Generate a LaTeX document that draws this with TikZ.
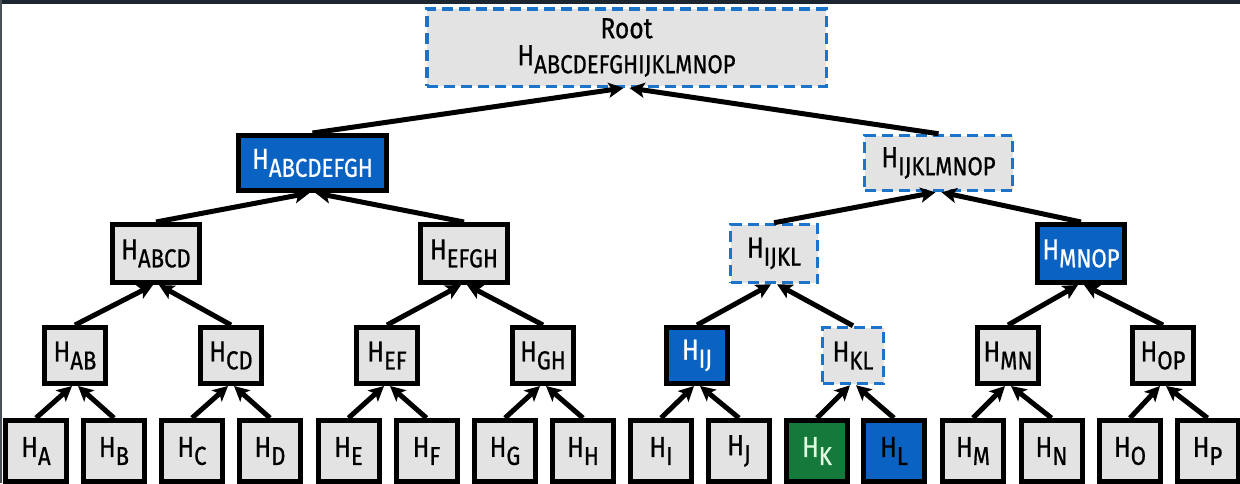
\documentclass[tikz,border=0pt]{standalone}
\usepackage{fontspec}
\setmainfont{Fira Sans}[FakeStretch=0.85,FakeBold=0.7]
\usetikzlibrary{arrows.meta}
\definecolor{boxgray}{HTML}{E3E3E3}
\definecolor{hlblue}{HTML}{0A62C2}
\definecolor{dashblue}{HTML}{1B74C9}
\definecolor{hlgreen}{HTML}{14793A}
\definecolor{topbar}{HTML}{1C2631}
\definecolor{leftbar}{HTML}{4A5058}
\newcommand\Hsb[1]{H\raisebox{-8pt}{\fontsize{26}{26}\selectfont #1}}
\begin{document}
\begin{tikzpicture}[x=1pt,y=-1pt,font=\fontsize{29}{30}\selectfont,
  hbox/.style={draw=black,line width=5pt,fill=boxgray,inner sep=0pt,text=black},
  pathbox/.style={draw=dashblue,dash pattern=on 11pt off 6pt,line width=3.5pt},
  bluebox/.style={fill=hlblue,text=white},
  bluedark/.style={fill=hlblue,text=black},
  greenbox/.style={fill=hlgreen,text=white!88!green},
  leaf/.style={hbox,minimum width=61pt,minimum height=61pt},
  lthree/.style={hbox,minimum width=61pt,minimum height=56pt},
  ltwo/.style={hbox,minimum width=87pt,minimum height=58pt},
  lone/.style={hbox,minimum width=148pt,minimum height=55pt},
  arr/.style={line width=5pt,-{Stealth[length=15pt,width=15pt,inset=3.5pt]}}]
\fill[white] (0,0) rectangle (1240,483);
\useasboundingbox (0,0) rectangle (1240,483);
\fill[topbar] (0,0) rectangle (1240,3.5);
\fill[leftbar] (0,0) rectangle (2,483);
% root
\node[hbox,pathbox,align=center,minimum width=399.5pt,minimum height=77.5pt] (root) at (626.5,47.5) {Root\\[-3pt]\Hsb{ABCDEFGHIJKLMNOP}};
% level 1
\node[lone,bluebox] (n1a) at (312.5,163) {\Hsb{ABCDEFGH}};
\node[lone,pathbox] (n1b) at (938.5,163) {\Hsb{IJKLMNOP}};
% level 2
\node[ltwo] (n2a) at (156,253.5) {\Hsb{ABCD}};
\node[ltwo] (n2b) at (464,253.5) {\Hsb{EFGH}};
\node[ltwo,pathbox] (n2c) at (774,253.5) {\Hsb{IJKL}};
\node[ltwo,bluebox] (n2d) at (1081,253.5) {\Hsb{MNOP}};
% level 3
\node[lthree] (n3a) at (75,355.5) {\Hsb{AB}};
\node[lthree] (n3b) at (231,355.5) {\Hsb{CD}};
\node[lthree] (n3c) at (387,355.5) {\Hsb{EF}};
\node[lthree] (n3d) at (543,355.5) {\Hsb{GH}};
\node[lthree,bluebox] (n3e) at (697,355.5) {\Hsb{IJ}};
\node[lthree,pathbox] (n3f) at (853,355.5) {\Hsb{KL}};
\node[lthree] (n3g) at (1008,355.5) {\Hsb{MN}};
\node[lthree] (n3h) at (1163,355.5) {\Hsb{OP}};
% leaves
\node[leaf] (la) at (36,451) {\Hsb{A}};
\node[leaf] (lb) at (114,451) {\Hsb{B}};
\node[leaf] (lc) at (192,451) {\Hsb{C}};
\node[leaf] (ld) at (270,451) {\Hsb{D}};
\node[leaf] (le) at (348.5,451) {\Hsb{E}};
\node[leaf] (lf) at (426.5,451) {\Hsb{F}};
\node[leaf] (lg) at (505,451) {\Hsb{G}};
\node[leaf] (lh) at (583,451) {\Hsb{H}};
\node[leaf] (li) at (661,451) {\Hsb{I}};
\node[leaf] (lj) at (739,451) {\Hsb{J}};
\node[leaf,greenbox] (lk) at (817,451) {\Hsb{K}};
\node[leaf,bluedark] (ll) at (894,451) {\Hsb{L}};
\node[leaf] (lm) at (973,451) {\Hsb{M}};
\node[leaf] (ln) at (1051.5,451) {\Hsb{N}};
\node[leaf] (lo) at (1130,451) {\Hsb{O}};
\node[leaf] (lp) at (1207.5,451) {\Hsb{P}};
% arrows
\foreach \l/\r/\p in {n1a/n1b/root,n2a/n2b/n1a,n2c/n2d/n1b,
  n3a/n3b/n2a,n3c/n3d/n2b,n3e/n3f/n2c,n3g/n3h/n2d,
  la/lb/n3a,lc/ld/n3b,le/lf/n3c,lg/lh/n3d,li/lj/n3e,lk/ll/n3f,lm/ln/n3g,lo/lp/n3h}{
  \draw[arr] (\l.north) -- ([xshift=-3pt]\p.south);
  \draw[arr] (\r.north) -- ([xshift=3pt]\p.south);
}
\end{tikzpicture}
\end{document}
